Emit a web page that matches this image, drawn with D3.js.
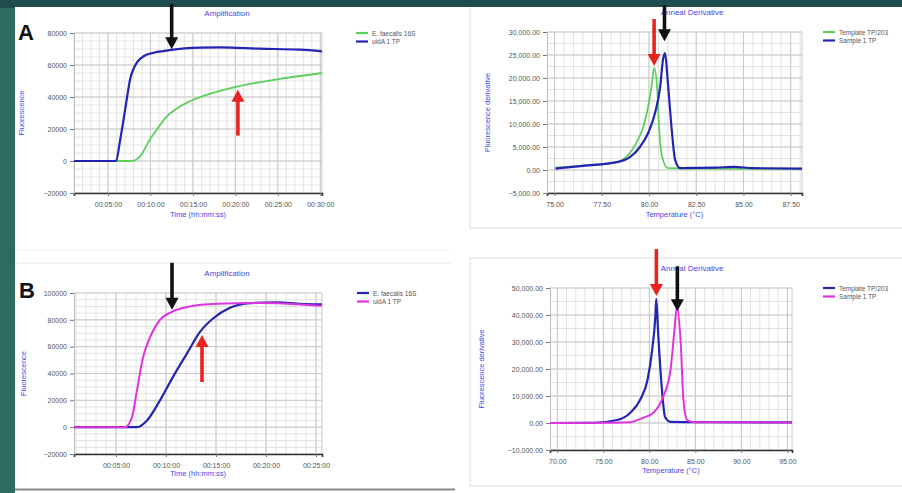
<!DOCTYPE html>
<html>
<head>
<meta charset="utf-8">
<script src="https://cdn.jsdelivr.net/npm/d3@7"></script>
<style>
  body { margin: 0; background: #2e6962; }
  svg { display: block; font-family: "Liberation Sans", Arial, sans-serif; }
</style>
</head>
<body>
<svg id="chart" width="902" height="493"></svg>
<script>
// ---- data ----
// amplification, x = minutes, y = fluorescence
var ampA_names = ["E. faecalis 16S", "uidA 1 TP"];
var ampA_green = [[1,0],[7.85,0],[8.8,3000],[9.95,13600],[11.0,21500],[11.95,28000],[13.1,32800],[14.3,36500],[16.7,41500],[20.2,46500],[24.9,51000],[30.2,55000]];
var ampA_blue  = [[1,0],[5.95,0],[6.4,12000],[6.9,28000],[7.25,40000],[7.6,51000],[8.0,57500],[8.4,61500],[8.9,64300],[9.6,66500],[10.5,67800],[11.5,68700],[12.5,69500],[15.9,70800],[18.2,71000],[22.9,70200],[27.6,69600],[30.2,68500]];
var ampA_xticks = [5, 10, 15, 20, 25, 30];
var ampA_yticks = [-20000, 0, 20000, 40000, 60000, 80000];

var ampB_names = ["E. faecalis 16S", "uidA 1 TP"];
var ampB_blue    = [[0.8,0],[7.1,0],[8.1,5000],[9.4,20000],[10.7,37500],[12.1,55000],[13.4,71000],[14.7,81000],[16.4,89000],[18.4,92500],[21.1,93000],[23.4,92000],[25.6,91500]];
var ampB_magenta = [[0.8,0],[5.9,0],[6.6,7500],[7.1,27600],[7.7,52000],[8.4,67000],[9.4,80000],[10.6,86000],[12.1,89500],[15.1,92000],[19.4,92500],[23.4,91500],[25.6,90500]];
var ampB_xticks = [5, 10, 15, 20, 25];
var ampB_yticks = [-20000, 0, 20000, 40000, 60000, 80000, 100000];

// anneal derivative, x = temperature (C), y = derivative
var meltA_names = ["Template TP/203", "Sample 1 TP"];
var meltA_green = [[75.05,500],[76.3,900],[77.4,1200],[78.3,1700],[78.6,2200],[79.1,4300],[79.4,6500],[79.7,9400],[79.95,13700],[80.16,18900],[80.27,22200],[80.43,18000],[80.53,9400],[80.7,2800],[81.0,400],[83.0,300],[88.1,250]];
var meltA_blue  = [[75.05,300],[76.5,900],[78.3,1700],[78.99,2800],[79.52,5000],[79.95,8000],[80.32,12400],[80.59,18000],[80.74,24000],[80.85,25400],[81.0,18900],[81.22,8000],[81.38,2200],[81.65,400],[83.5,500],[84.5,700],[85.5,400],[88.1,300]];
var meltA_xticks = [75, 77.5, 80, 82.5, 85, 87.5];
var meltA_yticks = [-5000, 0, 5000, 10000, 15000, 20000, 25000, 30000];

var meltB_names = ["Template TP/203", "Sample 1 TP"];
var meltB_blue    = [[69.2,0],[74.0,100],[76.5,1100],[77.9,3700],[79.0,8600],[79.8,16000],[80.3,27000],[80.65,39500],[80.75,46000],[80.95,33500],[81.4,11000],[81.7,2200],[82.3,400],[86.0,300],[95.5,200]];
var meltB_magenta = [[69.2,0],[76.0,100],[77.9,300],[79.3,1900],[80.4,3700],[81.5,9700],[82.3,19800],[82.7,33500],[83.0,43000],[83.4,30000],[83.7,8600],[84.1,1100],[85.0,300],[95.5,200]];
var meltB_xticks = [70, 75, 80, 85, 90, 95];
var meltB_yticks = [-10000, 0, 10000, 20000, 30000, 40000, 50000];

var svg = d3.select('#chart');

// slide frame
svg.append('rect').attr('x', 0).attr('y', 0).attr('width', 902).attr('height', 8).attr('fill', '#1f4d4e');
svg.append('rect').attr('x', 15).attr('y', 7).attr('width', 887).attr('height', 486).attr('fill', '#fff');
svg.append('line').attr('x1', 470).attr('x2', 470).attr('y1', 7).attr('y2', 228).attr('stroke', '#ddd');
svg.append('line').attr('x1', 470).attr('x2', 902).attr('y1', 228).attr('y2', 228).attr('stroke', '#ddd');
svg.append('rect').attr('x', 470).attr('y', 258).attr('width', 440).attr('height', 228)
  .attr('fill', 'none').attr('stroke', '#ddd');
svg.append('line').attr('x1', 15).attr('x2', 450).attr('y1', 250).attr('y2', 250).attr('stroke', '#f0f0f0');
svg.append('line').attr('x1', 15).attr('x2', 450).attr('y1', 263).attr('y2', 263).attr('stroke', '#e6e6e6');
svg.append('line').attr('x1', 15).attr('x2', 455).attr('y1', 489.5).attr('y2', 489.5).attr('stroke', '#8a8a8a').attr('stroke-width', 2);

function pad(n){ return (n < 10 ? '0' : '') + n; }
function timeFmt(m){ return pad(Math.floor(m / 60)) + ':' + pad(m % 60) + ':00'; }
var numFmt = d3.format(',.2f');

function panel(o) {
  var g = svg.append('g');
  var x = d3.scaleLinear().domain(o.xDomain).range([o.left, o.right]);
  var y = d3.scaleLinear().domain(o.yDomain).range([o.bottom, o.top]);

  // minor + major grid
  var gx = d3.range(Math.ceil(o.xDomain[0] / o.xMinor) * o.xMinor, o.xDomain[1], o.xMinor);
  var gy = d3.range(o.yDomain[0] + o.yMinor, o.yDomain[1] + 1, o.yMinor);
  g.append('g').selectAll('line').data(gx).join('line')
    .attr('x1', d => x(d)).attr('x2', d => x(d)).attr('y1', o.top).attr('y2', o.bottom)
    .attr('stroke', '#e2e2e2');
  g.append('g').selectAll('line').data(gy).join('line')
    .attr('y1', d => y(d)).attr('y2', d => y(d)).attr('x1', o.left).attr('x2', o.right)
    .attr('stroke', '#e2e2e2');
  g.append('g').selectAll('line').data(o.xticks).join('line')
    .attr('x1', d => x(d)).attr('x2', d => x(d)).attr('y1', o.top).attr('y2', o.bottom)
    .attr('stroke', '#c9c9c9');
  g.append('g').selectAll('line').data(o.yticks).join('line')
    .attr('y1', d => y(d)).attr('y2', d => y(d)).attr('x1', o.left).attr('x2', o.right)
    .attr('stroke', '#c9c9c9');
  g.append('line').attr('x1', o.right).attr('x2', o.right).attr('y1', o.top).attr('y2', o.bottom).attr('stroke', '#c9c9c9');

  // axes
  var ax = g.append('g').attr('transform', 'translate(0,' + o.bottom + ')')
    .call(d3.axisBottom(x).tickValues(o.xticks).tickFormat(o.xFmt).tickSize(3).tickPadding(o.xPad));
  ax.select('.domain').attr('stroke', '#333').attr('stroke-width', 1.6);
  var ay = g.append('g').attr('transform', 'translate(' + o.left + ',0)')
    .call(d3.axisLeft(y).tickValues(o.yticks).tickFormat(o.yFmt).tickSize(4).tickPadding(3));
  ay.select('.domain').attr('stroke', '#bbb');
  g.selectAll('.tick text').attr('font-size', 7).attr('fill', '#555');
  g.selectAll('.tick line').attr('stroke', '#777');

  // series
  var line = d3.line().x(d => x(d[0])).y(d => y(d[1])).curve(d3.curveMonotoneX);
  o.series.forEach(function(s){
    g.append('path').datum(s.data).attr('d', line)
      .attr('fill', 'none').attr('stroke', s.color).attr('stroke-width', s.width || 1.8)
      .attr('stroke-linejoin', 'round');
  });

  // titles
  g.append('text').attr('x', o.titleX).attr('y', o.top - 17).attr('text-anchor', 'middle')
    .attr('font-size', 8).attr('fill', '#4646f0').text(o.title);
  g.append('text').attr('x', (o.left + o.right) / 2).attr('y', o.bottom + o.xLabelDy).attr('text-anchor', 'middle')
    .attr('font-size', 7.5).attr('fill', '#4646f0').text(o.xLabel);
  g.append('text').attr('transform', 'translate(' + o.yLabelX + ',' + ((o.top + o.bottom) / 2) + ') rotate(-90)')
    .attr('text-anchor', 'middle').attr('font-size', 7.5).attr('fill', '#4646f0').text(o.yLabel);

  // legend
  var lg = g.append('g').attr('transform', 'translate(' + o.legendX + ',' + o.top + ')');
  o.series.forEach(function(s, i){
    lg.append('line').attr('x1', 0).attr('x2', 12).attr('y1', i * 8.5).attr('y2', i * 8.5)
      .attr('stroke', s.color).attr('stroke-width', 2.2);
    lg.append('text').attr('x', 16).attr('y', i * 8.5 + 2.5).attr('font-size', 6.5).attr('fill', '#555').text(s.name);
  });

  // arrows pointing at the curves
  o.arrows.forEach(function(a){
    var tx = x(a.at[0]), ty = y(a.at[1]);
    var dir = a.up ? 1 : -1;
    var base = ty + dir * 11;
    g.append('line').attr('x1', tx).attr('x2', tx).attr('y1', base).attr('y2', ty + dir * a.len)
      .attr('stroke', a.color).attr('stroke-width', 3.6);
    g.append('path')
      .attr('d', 'M' + tx + ',' + ty + 'L' + (tx - 6.5) + ',' + (base + dir) + 'L' + (tx + 6.5) + ',' + (base + dir) + 'Z')
      .attr('fill', a.color);
  });
}

var GREEN = '#5ccf5c', BLUE = '#2424b4', MAGENTA = '#e033e0', RED = '#e8241f', BLACK = '#111';

panel({
  left: 74, right: 322, top: 33, bottom: 193,
  xDomain: [1, 30.2], yDomain: [-20000, 80000], xMinor: 1, yMinor: 5000,
  xticks: ampA_xticks, yticks: ampA_yticks, xFmt: timeFmt, yFmt: d3.format('d'), xPad: 6,
  title: 'Amplification', titleX: 227, xLabel: 'Time (hh:mm:ss)', xLabelDy: 24, yLabel: 'Fluorescence', yLabelX: 24,
  legendX: 356,
  series: [
    {name: ampA_names[0], data: ampA_green, color: GREEN, width: 1.8},
    {name: ampA_names[1], data: ampA_blue, color: BLUE, width: 2.2}
  ],
  arrows: [
    {at: [12.5, 69800], len: 45, color: BLACK},
    {at: [20.3, 44600], len: 46, color: RED, up: true}
  ]
});

panel({
  left: 547, right: 802, top: 32, bottom: 193,
  xDomain: [74.6, 88.1], yDomain: [-5000, 30000], xMinor: 0.5, yMinor: 2500,
  xticks: meltA_xticks, yticks: meltA_yticks, xFmt: numFmt, yFmt: numFmt, xPad: 6,
  title: 'Anneal Derivative', titleX: 692, xLabel: 'Temperature (\u00b0C)', xLabelDy: 24, yLabel: 'Fluorescence derivative', yLabelX: 490,
  legendX: 823,
  series: [
    {name: meltA_names[0], data: meltA_green, color: GREEN, width: 1.8},
    {name: meltA_names[1], data: meltA_blue, color: BLUE, width: 2.2}
  ],
  arrows: [
    {at: [80.27, 22600], len: 47, color: RED},
    {at: [80.82, 28000], len: 36, color: BLACK}
  ]
});

panel({
  left: 74, right: 322, top: 293, bottom: 454,
  xDomain: [0.8, 25.6], yDomain: [-20000, 100000], xMinor: 1, yMinor: 5000,
  xticks: ampB_xticks, yticks: ampB_yticks, xFmt: timeFmt, yFmt: d3.format('d'), xPad: 6,
  title: 'Amplification', titleX: 227, xLabel: 'Time (hh:mm:ss)', xLabelDy: 22, yLabel: 'Fluorescence', yLabelX: 26,
  legendX: 357,
  series: [
    {name: ampB_names[0], data: ampB_blue, color: BLUE, width: 2.2},
    {name: ampB_names[1], data: ampB_magenta, color: MAGENTA, width: 2}
  ],
  arrows: [
    {at: [10.6, 87500], len: 47, color: BLACK},
    {at: [13.6, 68700], len: 47, color: RED, up: true}
  ]
});

panel({
  left: 550, right: 792, top: 288, bottom: 450,
  xDomain: [69.2, 95.5], yDomain: [-10000, 50000], xMinor: 1, yMinor: 5000,
  xticks: meltB_xticks, yticks: meltB_yticks, xFmt: numFmt, yFmt: numFmt, xPad: 6,
  title: 'Anneal Derivative', titleX: 692, xLabel: 'Temperature (\u00b0C)', xLabelDy: 23, yLabel: 'Fluorescence derivative', yLabelX: 484,
  legendX: 823,
  series: [
    {name: meltB_names[0], data: meltB_blue, color: BLUE, width: 2.2},
    {name: meltB_names[1], data: meltB_magenta, color: MAGENTA, width: 2}
  ],
  arrows: [
    {at: [80.76, 47000], len: 47, color: RED},
    {at: [83.04, 41400], len: 45, color: BLACK}
  ]
});

// panel letters
svg.append('text').attr('x', 18).attr('y', 40).attr('font-size', 22).attr('font-weight', 'bold').attr('fill', '#111').text('A');
svg.append('text').attr('x', 19).attr('y', 298).attr('font-size', 22).attr('font-weight', 'bold').attr('fill', '#111').text('B');
</script>
</body>
</html>
